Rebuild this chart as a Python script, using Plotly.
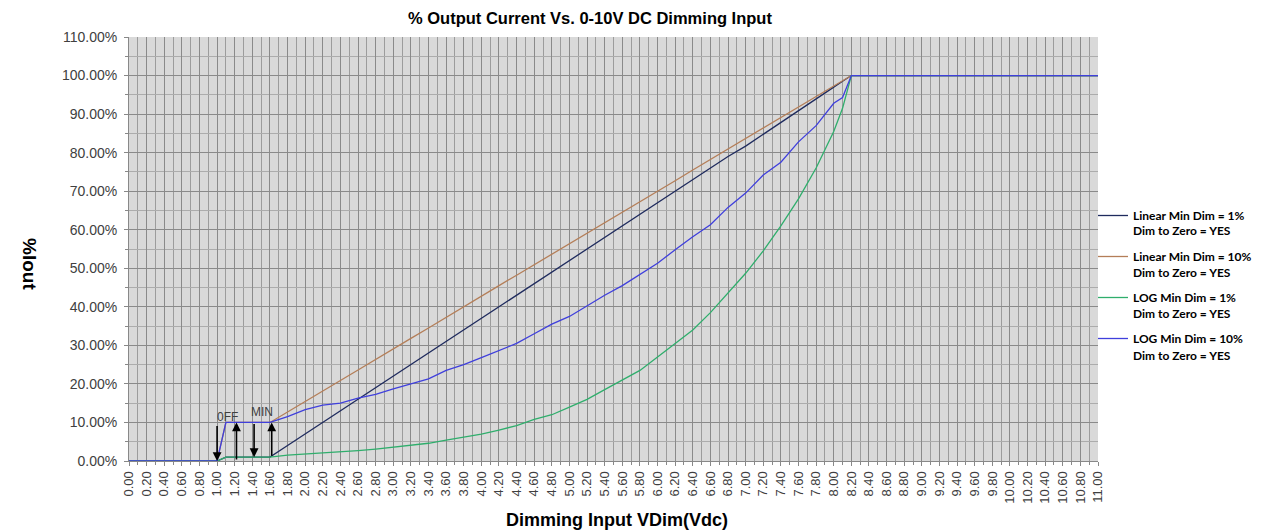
import plotly.graph_objects as go

# ---------------- data ----------------
volts = [0.0, 1.0, 1.1, 1.6, 1.8, 2.0, 2.2, 2.4, 2.6, 2.8, 3.0, 3.2, 3.4, 3.6, 3.8,
         4.0, 4.2, 4.4, 4.6, 4.8, 5.0, 5.2, 5.4, 5.6, 5.8, 6.0, 6.2, 6.4, 6.6, 6.8,
         7.0, 7.2, 7.4, 7.6, 7.8, 8.0, 8.1, 8.2, 11.0]

linear_1 = [0, 0, 1, 1, 4, 7, 10, 13, 16, 19, 22, 25, 28, 31, 34,
            37, 40, 43, 46, 49, 52, 55, 58, 61, 64, 67, 70, 73, 76, 79,
            81.7, 84.8, 87.8, 91, 94, 97, 98.5, 100, 100]

linear_10 = [0, 0, 10, 10, 12.7, 15.5, 18.2, 20.9, 23.6, 26.4, 29.1, 31.8, 34.5, 37.3, 40,
             42.7, 45.5, 48.2, 50.9, 53.6, 56.4, 59.1, 61.8, 64.5, 67.3, 70, 72.7, 75.5, 78.2, 80.9,
             83.6, 86.4, 89.1, 91.8, 94.5, 97.3, 98.6, 100, 100]

log_1 = [0, 0, 1, 1, 1.5, 1.8, 2.0, 2.4, 2.7, 3.1, 3.6, 4.2, 4.6, 5.4, 6.2,
         7.0, 8.0, 9.2, 10.8, 12.0, 14.0, 16.0, 18.5, 21.0, 23.5, 27.0, 30.5, 34.0, 38.5, 43.5,
         48.7, 54.5, 61.0, 68.0, 76.0, 85.5, 91.5, 100, 100]

log_10 = [0, 0, 10, 10, 11.5, 13.3, 14.5, 15.0, 16.3, 17.3, 18.7, 20.0, 21.3, 23.5, 25.0,
          26.8, 28.7, 30.5, 33.0, 35.5, 37.5, 40.3, 43.0, 45.5, 48.5, 51.3, 54.8, 58.2, 61.3, 65.8,
          69.5, 74.2, 77.5, 82.8, 87.0, 92.8, 94.3, 100, 100]

series_names = ["Linear Min Dim = 1%",
                "Linear Min Dim = 10%",
                "LOG Min Dim = 1%",
                "LOG Min Dim = 10%"]
series_subtitle = "Dim to Zero = YES"
series_values = [linear_1, linear_10, log_1, log_10]
series_colors = ["#1f2b5e", "#b47e58", "#2fae6c", "#3f3fdc"]

# arrow markers (x, from_y, to_y) in data units
arrows = [(1.0, 9.5, 0.0), (1.22, 0.0, 10.0), (1.42, 10.0, 1.0), (1.62, 1.0, 10.0)]
labels = [("0FF", 1.12, 11.4), ("MIN", 1.51, 12.8)]

# page geometry (browser body has an 8px margin)
PAGE_OFF = 8
FIG_W, FIG_H = 1268 - PAGE_OFF, 531 - PAGE_OFF
PL, PR, PT, PB = 129, 1098, 37, 461          # plot area in screenshot pixels
LEG_X, LEG_TOP, LEG_STEP, LEG_LINE2 = 1093, 201, 41.5, 16.5
LEG_FONT = dict(family="Lato", size=12, color="black", weight="bold")


def px_to_paper(px, py):
    return (px - PL) / (PR - PL), (PB - py) / (PB - PT)


fig = go.Figure()
for name, vals, col in zip(series_names, series_values, series_colors):
    fig.add_trace(go.Scatter(x=volts, y=vals, mode="lines", name=name,
                             legendgroup=name,
                             line=dict(color=col, width=1.3)))

for (xa, y0, y1) in arrows:
    fig.add_annotation(x=xa, y=y1, ax=xa, ay=y0, xref="x", yref="y",
                       axref="x", ayref="y", text="", showarrow=True,
                       arrowhead=2, arrowsize=1.1, arrowwidth=1.6,
                       arrowcolor="black")
for (t, xa, ya) in labels:
    fig.add_annotation(x=xa, y=ya, xref="x", yref="y", text=t, showarrow=False,
                       font=dict(family="Liberation Sans", size=12, color="#404040"))

# second line of each legend entry
for i in range(len(series_names)):
    tx, ty = px_to_paper(1131, 214 + i * LEG_STEP + LEG_LINE2)
    fig.add_annotation(x=tx, y=ty, xref="paper", yref="paper",
                       xanchor="left", yanchor="middle", showarrow=False,
                       text=series_subtitle, font=LEG_FONT)

# titles
tx, ty = px_to_paper(590, 18)
fig.add_annotation(x=tx, y=ty, xref="paper", yref="paper",
                   xanchor="center", yanchor="middle", showarrow=False,
                   text="<b>% Output Current Vs. 0-10V DC Dimming Input</b>",
                   font=dict(family="Liberation Sans", size=16.5, color="black"))
tx, ty = px_to_paper(617, 520)
fig.add_annotation(x=tx, y=ty, xref="paper", yref="paper",
                   xanchor="center", yanchor="middle", showarrow=False,
                   text="<b>Dimming Input VDim(Vdc)</b>",
                   font=dict(family="Liberation Sans", size=18, color="black"))
tx, ty = px_to_paper(30, 264)
fig.add_annotation(x=tx, y=ty, xref="paper", yref="paper",
                   xanchor="center", yanchor="middle", showarrow=False,
                   text="<b>%Iout</b>", textangle=90,
                   font=dict(family="Liberation Sans", size=19, color="black"))

lx, ly = px_to_paper(LEG_X, LEG_TOP)
fig.update_layout(
    width=FIG_W, height=FIG_H,
    margin=dict(l=PL - PAGE_OFF, r=FIG_W - (PR - PAGE_OFF), t=PT - PAGE_OFF,
                b=FIG_H - (PB - PAGE_OFF), autoexpand=False),
    paper_bgcolor="white", plot_bgcolor="#d9d9d9",
    showlegend=True,
    legend=dict(x=lx, y=ly, xanchor="left", yanchor="top",
                bgcolor="rgba(0,0,0,0)", tracegroupgap=22,
                itemwidth=30, font=LEG_FONT),
    font=dict(family="Liberation Sans"),
)

fig.update_xaxes(range=[0, 11], dtick=0.2, tick0=0, tickformat=".2f",
                 tickangle=-90, automargin=False,
                 showgrid=True, gridcolor="#8a8a8a", gridwidth=1,
                 minor=dict(dtick=0.1, showgrid=True, gridcolor="#9c9c9c",
                            ticks="outside", ticklen=3, tickcolor="#888"),
                 ticks="outside", ticklen=4, tickcolor="#888",
                 showline=True, linecolor="#888", zeroline=False,
                 tickfont=dict(family="Liberation Sans", size=13, color="#404040"))
fig.update_yaxes(range=[0, 110], dtick=10, tick0=0, tickformat=".2f",
                 ticksuffix="%", automargin=False, ticklabelstandoff=4,
                 showgrid=True, gridcolor="#8a8a8a", gridwidth=1,
                 minor=dict(dtick=5, showgrid=True, gridcolor="#acacac",
                            ticks="outside", ticklen=3, tickcolor="#888"),
                 ticks="outside", ticklen=4, tickcolor="#888",
                 showline=True, linecolor="#888", zeroline=False,
                 tickfont=dict(family="Liberation Sans", size=14, color="#404040"))

fig.write_html("out.html")
